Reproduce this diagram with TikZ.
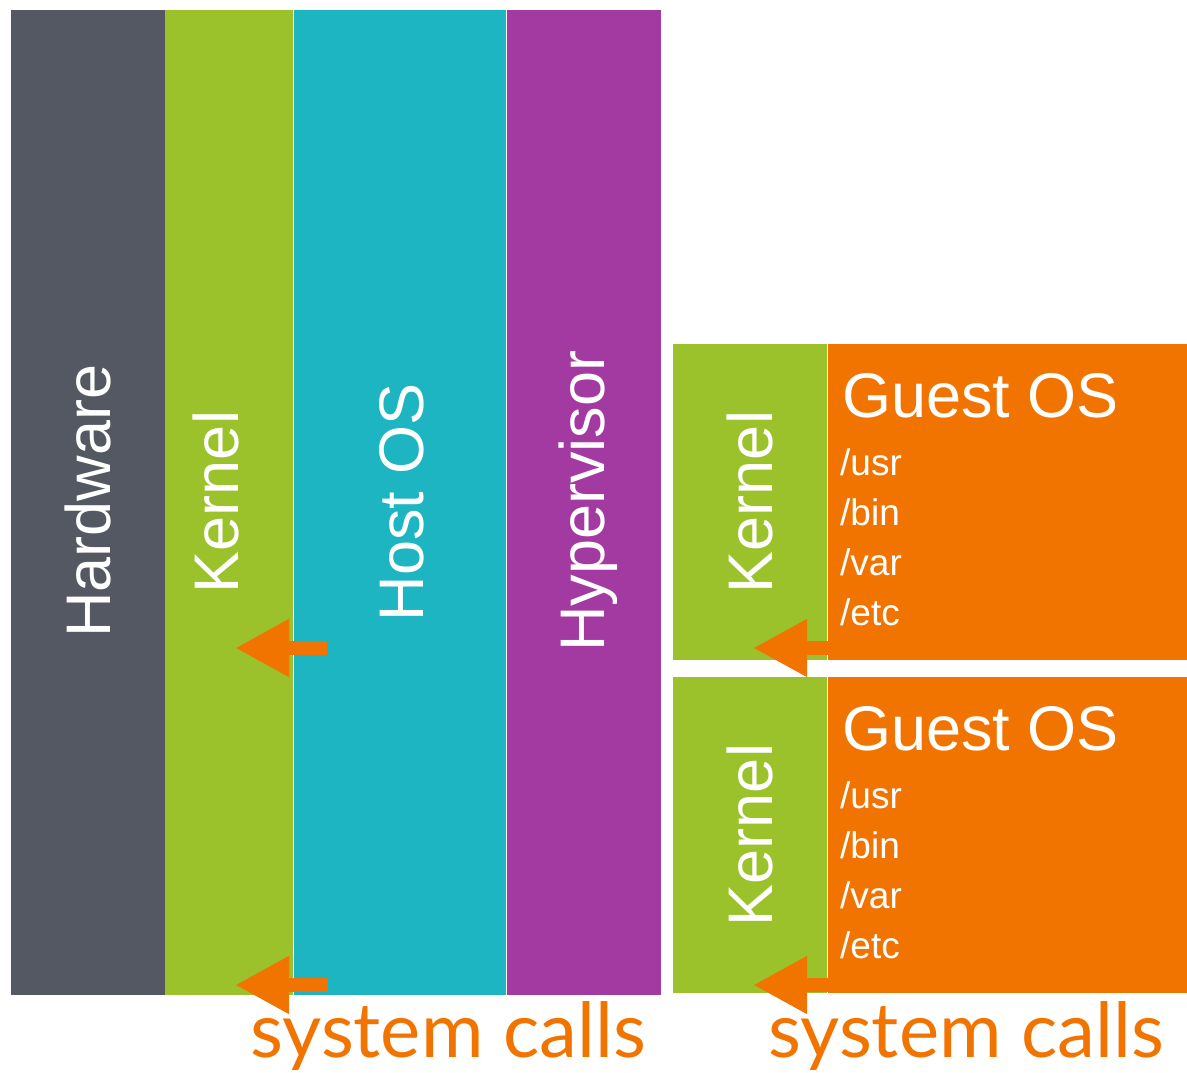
\documentclass[tikz,border=0pt]{standalone}
\usepackage{fontspec}
\setmainfont{Liberation Sans}
\newfontfamily\callfont{Lato}
\usetikzlibrary{arrows.meta}
\definecolor{hwgray}{HTML}{535862}
\definecolor{kgreen}{HTML}{9BC22A}
\definecolor{hteal}{HTML}{1CB5C1}
\definecolor{hpurple}{HTML}{A33AA2}
\definecolor{gorange}{HTML}{F27400}
\tikzset{
  layer/.style={rectangle, inner sep=0pt, outer sep=0pt, anchor=north west, draw=none},
  vlabel/.style={text=white, rotate=90, anchor=base, inner sep=0pt, font=\fontsize{63}{63}\selectfont},
  gtitle/.style={text=white, anchor=base west, inner sep=0pt, font=\fontsize{63}{63}\selectfont},
  gdir/.style={text=white, anchor=base west, inner sep=0pt, font=\fontsize{37}{37}\selectfont},
  syscall/.style={draw=gorange, line width=14pt, -{Triangle[length=54pt,width=54pt]}},
  calltext/.style={text=gorange, anchor=base west, inner sep=0pt, font=\callfont\fontsize{76}{76}\selectfont}
}
\begin{document}
\begin{tikzpicture}[x=1pt,y=-1pt]
\useasboundingbox (0,0) rectangle (1187,1072);
% host stack
\node[layer, fill=hwgray, minimum width=154pt, minimum height=985pt] (hw) at (11,10) {};
\node[layer, fill=kgreen, minimum width=128pt, minimum height=985pt] (hk) at (165,10) {};
\node[layer, fill=hteal, minimum width=212pt, minimum height=985pt] (hos) at (294,10) {};
\node[layer, fill=hpurple, minimum width=154pt, minimum height=985pt] (hyp) at (507,10) {};
\node[vlabel] (hwl) at (110,501) {Hardware};
\node[vlabel] (hkl) at (238,502) {Kernel};
\node[vlabel] (hosl) at (423,502) {Host OS};
\node[vlabel] (hypl) at (604,501) {Hypervisor};
% guest 1
\node[layer, fill=kgreen, minimum width=154pt, minimum height=316pt] (gk1) at (673,344) {};
\node[layer, fill=gorange, minimum width=359pt, minimum height=316pt] (go1) at (828,344) {};
\node[vlabel] (gk1l) at (772,502) {Kernel};
\node[gtitle] (go1t) at (842,417) {Guest OS};
\node[gdir] (go1a) at (840,475) {/usr};
\node[gdir] (go1b) at (840,525) {/bin};
\node[gdir] (go1c) at (840,575) {/var};
\node[gdir] (go1d) at (840,625) {/etc};
% guest 2
\node[layer, fill=kgreen, minimum width=154pt, minimum height=316pt] (gk2) at (673,677) {};
\node[layer, fill=gorange, minimum width=359pt, minimum height=316pt] (go2) at (828,677) {};
\node[vlabel] (gk2l) at (772,835) {Kernel};
\node[gtitle] (go2t) at (842,750) {Guest OS};
\node[gdir] (go2a) at (840,808) {/usr};
\node[gdir] (go2b) at (840,858) {/bin};
\node[gdir] (go2c) at (840,908) {/var};
\node[gdir] (go2d) at (840,958) {/etc};
% system call arrows
\coordinate (s1) at (327,648); \coordinate (t1) at (235,648);
\coordinate (s2) at (328,985); \coordinate (t2) at (235,985);
\coordinate (s3) at (840,648); \coordinate (t3) at (753,648);
\coordinate (s4) at (840,985); \coordinate (t4) at (753,985);
\draw[syscall] (s1) -- (t1);
\draw[syscall] (s2) -- (t2);
\draw[syscall] (s3) -- (t3);
\draw[syscall] (s4) -- (t4);
\node[calltext] (sc1) at (250,1057) {system calls};
\node[calltext] (sc2) at (768,1057) {system calls};
\end{tikzpicture}
\end{document}
